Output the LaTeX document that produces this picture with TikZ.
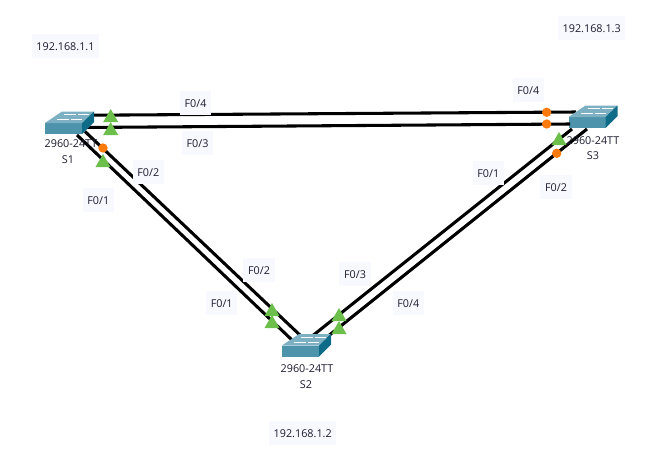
\documentclass[tikz,border=0pt]{standalone}
\usepackage{fontspec}
\setmainfont{Open Sans}
\definecolor{lblbg}{HTML}{F8F9FF}
\definecolor{txt}{HTML}{1C1C30}
\definecolor{swfront}{HTML}{4E93AC}
\definecolor{swtop}{HTML}{7DB0C3}
\definecolor{swside}{HTML}{0E6C88}
\definecolor{upgreen}{HTML}{6CBF4B}
\definecolor{portorange}{HTML}{FF7A0D}
\tikzset{
  lbl/.style={fill=lblbg,text=txt,font=\fontsize{8.1}{9.5}\selectfont,inner xsep=3.5pt,inner ysep=5.7pt,text height=6.6pt,text depth=0pt},
  devtxt/.style={text=txt,font=\fontsize{8.1}{9.5}\selectfont,inner sep=0pt},
  swbody/.style={fill=swfront,minimum width=27.75pt,minimum height=8.25pt,inner sep=0pt,outer sep=0pt},
  link/.style={draw=black,line width=2.3pt},
  up/.style={fill=upgreen,draw=none},
  port/.style={circle,fill=portorange,minimum size=7pt,inner sep=0pt}
}
\newcommand{\swdeco}[1]{%
  \fill[swtop] (#1.north west) -- ++(17,-11.5) -- ++(32,0) -- (#1.north east) -- cycle;
  \fill[swside] (#1.north east) -- ++(12,-11.5) -- ++(0,10.5) -- (#1.south east) -- cycle;
  \draw[white,line width=0.5pt] ([shift={(12,-3.5)}]#1.north west) -- ++(12,0);
  \draw[white,line width=0.5pt] ([shift={(19,-8.5)}]#1.north west) -- ++(12,0);
  \draw[white,line width=0.5pt] ([shift={(33,-8.5)}]#1.north west) -- ++(11,0);
  \draw[white,line width=0.5pt] ([shift={(26,-3.5)}]#1.north west) -- ++(11,0);
}
\newcommand{\uptri}[2]{\fill[up] (#1,#2) -- ++(7.5,13) -- ++(-15,0) -- cycle;}
\begin{document}
\begin{tikzpicture}[x=0.75pt,y=-0.75pt]
\useasboundingbox (0,0) rectangle (660,454);
% switches
\node[swbody] (S1) at (63.5,128.5) {};
\node[swbody] (S2) at (300.5,351) {};
\node[swbody] (S3) at (587,122.5) {};
% link end points
\coordinate (a1) at (94,115.2);
\coordinate (a2) at (82,127.5);
\coordinate (a3) at (77,135);
\coordinate (a4) at (85,131.5);
\coordinate (b1) at (292,340);
\coordinate (b2) at (302,337);
\coordinate (b3) at (311,337);
\coordinate (b4) at (327,337);
\coordinate (c1) at (576,112);
\coordinate (c2) at (570,124);
\coordinate (c3) at (572,129);
\coordinate (c4) at (587,129);
\draw[link] (a1) -- (c1);
\draw[link] (a2) -- (c2);
\draw[link] (a3) -- (b1);
\draw[link] (a4) -- (b2);
\draw[link] (b3) -- (c3);
\draw[link] (b4) -- (c4);
\swdeco{S1}\swdeco{S2}\swdeco{S3}
% device labels
\node[devtxt] (d1a) at (71,143.5) {2960-24TT};
\node[devtxt] (d1b) at (68,159.5) {S1};
\node[devtxt] (d2a) at (307,368.5) {2960-24TT};
\node[devtxt] (d2b) at (306,384.5) {S2};
\node[devtxt] (d3a) at (593,140.5) {2960-24TT};
\node[devtxt] (d3b) at (593,155.5) {S3};
% link lights
\uptri{110.7}{109}\uptri{110.7}{122}
\uptri{103}{154}
\node[port] (p1) at (103,148) {};
\uptri{272}{303}\uptri{272}{315}
\uptri{339}{308}\uptri{339}{321}
\uptri{559}{132}
\node[port] (p2) at (546.7,112.3) {};
\node[port] (p3) at (546.7,124) {};
\node[port] (p4) at (556.7,153.3) {};
% port labels
\node[lbl] (l1) at (195.5,103) {F0/4};
\node[lbl] (l2) at (197.5,143) {F0/3};
\node[lbl] (l3) at (148.3,171.7) {F0/2};
\node[lbl] (l4) at (98.3,200) {F0/1};
\node[lbl] (l5) at (259,270) {F0/2};
\node[lbl] (l6) at (221.7,303) {F0/1};
\node[lbl] (l7) at (355,274) {F0/3};
\node[lbl] (l8) at (408.3,303) {F0/4};
\node[lbl] (l9) at (488.3,173.3) {F0/1};
\node[lbl] (l10) at (556,187.3) {F0/2};
\node[lbl] (l11) at (528.3,90) {F0/4};
\node[lbl] (ip1) at (65.5,46) {192.168.1.1};
\node[lbl] (ip2) at (302.7,433.3) {192.168.1.2};
\node[lbl] (ip3) at (591.7,28) {192.168.1.3};
\end{tikzpicture}
\end{document}
